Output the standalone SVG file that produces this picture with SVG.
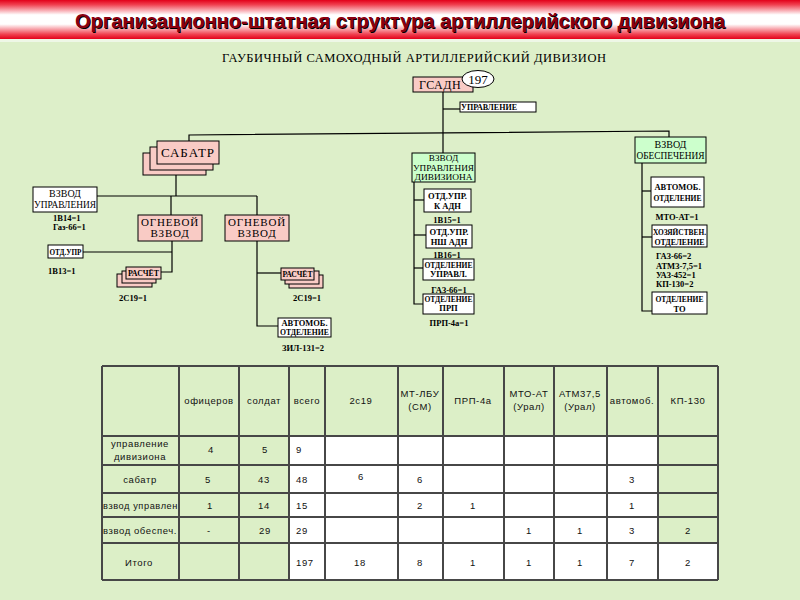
<svg xmlns="http://www.w3.org/2000/svg" width="800" height="600" viewBox="0 0 800 600">
<defs>
<linearGradient id="bar" x1="0" y1="0" x2="0" y2="1">
<stop offset="0" stop-color="#e3001a"/>
<stop offset="0.12" stop-color="#f04050"/>
<stop offset="0.38" stop-color="#ffffff"/>
<stop offset="0.62" stop-color="#ffffff"/>
<stop offset="0.88" stop-color="#f04050"/>
<stop offset="1" stop-color="#e3001a"/>
</linearGradient>
<style>
.pink{fill:#F9CBC5;stroke:#000;stroke-width:1}
.grn{fill:#CCFFCC;stroke:#000;stroke-width:1}
.wht{fill:#fff;stroke:#000;stroke-width:1}
.ln{stroke:#000;stroke-width:1.2;fill:none}
.sr{font-family:"Liberation Serif","DejaVu Serif",serif;fill:#000;text-anchor:middle}
.st{text-anchor:start}
.b10{font-size:10px}
.b9{font-size:9.2px}
.b11{font-size:11px;letter-spacing:0.8px}
.s9{font-size:8.5px;font-weight:bold}
.tb{font-family:"Liberation Sans",Arial,sans-serif;font-size:9.5px;fill:#111;letter-spacing:0.6px;text-anchor:middle}
.grid{stroke:#474747;stroke-width:2;fill:none}
.cg{fill:#DCEFC7}
.cw{fill:#fff}
</style>
</defs>
<rect x="0" y="0" width="800" height="600" fill="#DDEFC9"/>
<rect x="0" y="0" width="800" height="39" fill="url(#bar)"/>
<rect x="0" y="39" width="800" height="3" fill="#eef7e6"/>
<text x="401" y="29" font-family="Liberation Sans,Arial,sans-serif" font-size="20" font-weight="bold" fill="#000" text-anchor="middle" textLength="650" lengthAdjust="spacingAndGlyphs">Организационно-штатная структура артиллерийского дивизиона</text>
<text x="400" y="28" font-family="Liberation Sans,Arial,sans-serif" font-size="20" font-weight="bold" fill="#8B0010" text-anchor="middle" textLength="650" lengthAdjust="spacingAndGlyphs">Организационно-штатная структура артиллерийского дивизиона</text>

<text class="sr" x="414" y="62" font-size="12.5" textLength="384" lengthAdjust="spacing">ГАУБИЧНЫЙ САМОХОДНЫЙ  АРТИЛЛЕРИЙСКИЙ  ДИВИЗИОН</text>

<g id="connectors">
<polyline class="ln" points="443,92 443,153"/>
<polyline class="ln" points="443,109 460,109"/>
<polyline class="ln" points="189,141 189,135 669,131 669,137"/>
<polyline class="ln" points="176,175 176,196"/>
<polyline class="ln" points="97,196 257,196"/>
<polyline class="ln" points="171,196 171,215"/>
<polyline class="ln" points="257,196 257,215"/>
<polyline class="ln" points="172,241 172,272 161,272"/>
<polyline class="ln" points="83,252 172,252"/>
<polyline class="ln" points="257,241 257,326 278,326"/>
<polyline class="ln" points="257,273 281,273"/>
<polyline class="ln" points="414,182 414,304 423,304"/>
<polyline class="ln" points="414,200 424,200"/>
<polyline class="ln" points="414,235 426,235"/>
<polyline class="ln" points="414,268 423,268"/>
<polyline class="ln" points="642,163 642,311 652,311"/>
<polyline class="ln" points="642,191 651,191"/>
<polyline class="ln" points="642,237 652,237"/>
</g>

<g id="gsadn">
<rect class="pink" x="413" y="77" width="60" height="15"/>
<text class="sr" x="440" y="89" font-size="12" letter-spacing="0.5">ГСАДН</text>
<ellipse cx="478" cy="79" rx="16" ry="8.5" fill="#fff" stroke="#000" stroke-width="1"/>
<text class="sr" x="478" y="84" font-size="13">197</text>
</g>

<g id="upravlenie">
<rect class="wht" x="460" y="102" width="76" height="10"/>
<text class="sr s9" x="489" y="110" font-size="7.5" textLength="56" lengthAdjust="spacingAndGlyphs">УПРАВЛЕНИЕ</text>
</g>

<g id="sabatr">
<rect class="pink" x="143" y="153" width="63" height="22"/>
<rect class="pink" x="150" y="147" width="63" height="23"/>
<rect class="pink" x="157" y="141" width="62" height="23"/>
<text class="sr" x="188" y="157" font-size="13" letter-spacing="1">САБАТР</text>
</g>

<g id="vzvod-upr">
<rect class="wht" x="33" y="187" width="64" height="25"/>
<text class="sr b10" x="65" y="197">ВЗВОД</text>
<text class="sr b10" x="65" y="208" textLength="62" lengthAdjust="spacingAndGlyphs">УПРАВЛЕНИЯ</text>
<text class="sr s9 st" x="53" y="221">1В14=1</text>
<text class="sr s9 st" x="53" y="230">Газ-66=1</text>
</g>

<g id="ogn1">
<rect class="pink" x="138" y="215" width="64" height="26"/>
<text class="sr b11" x="170" y="226">ОГНЕВОЙ</text>
<text class="sr b11" x="170" y="237">ВЗВОД</text>
</g>

<g id="ogn2">
<rect class="pink" x="225" y="215" width="64" height="26"/>
<text class="sr b11" x="257" y="226">ОГНЕВОЙ</text>
<text class="sr b11" x="257" y="237">ВЗВОД</text>
</g>

<g id="otd-upr">
<rect class="wht" x="48" y="245" width="35" height="13"/>
<text class="sr s9" x="65.5" y="255" textLength="32" lengthAdjust="spacingAndGlyphs">ОТД.УПР</text>
<text class="sr s9 st" x="48" y="274">1В13=1</text>
</g>

<g id="raschet1">
<rect class="pink" x="117" y="274" width="35" height="13"/>
<rect class="pink" x="122" y="271" width="34" height="12"/>
<rect class="pink" x="126" y="267" width="35" height="12"/>
<text class="sr s9" x="143.5" y="276" textLength="31" lengthAdjust="spacingAndGlyphs">РАСЧЁТ</text>
<text class="sr s9" x="133" y="301">2С19=1</text>
</g>

<g id="raschet2">
<rect class="pink" x="289" y="275" width="34" height="13"/>
<rect class="pink" x="285" y="271" width="34" height="13"/>
<rect class="pink" x="281" y="268" width="33" height="12"/>
<text class="sr s9" x="297.5" y="277" textLength="30" lengthAdjust="spacingAndGlyphs">РАСЧЁТ</text>
<text class="sr s9" x="307" y="301">2С19=1</text>
</g>

<g id="avto1">
<rect class="wht" x="278" y="318" width="53" height="19"/>
<text class="sr s9" x="304.5" y="326" textLength="46" lengthAdjust="spacingAndGlyphs">АВТОМОБ.</text>
<text class="sr s9" x="304.5" y="335" textLength="49" lengthAdjust="spacingAndGlyphs">ОТДЕЛЕНИЕ</text>
<text class="sr s9" x="303" y="351">ЗИЛ-131=2</text>
</g>

<g id="vzvod-upr-div">
<rect class="grn" x="412" y="153" width="63" height="29"/>
<text class="sr b9" x="443.5" y="161">ВЗВОД</text>
<text class="sr b9" x="443.5" y="170.5" textLength="61" lengthAdjust="spacingAndGlyphs">УПРАВЛЕНИЯ</text>
<text class="sr b9" x="443.5" y="180" textLength="58" lengthAdjust="spacingAndGlyphs">ДИВИЗИОНА</text>
</g>

<g id="otd-k">
<rect class="wht" x="424" y="189" width="47" height="23"/>
<text class="sr s9" x="447.5" y="199">ОТД.УПР.</text>
<text class="sr s9" x="447.5" y="209">К АДН</text>
<text class="sr s9" x="447" y="223">1В15=1</text>
</g>

<g id="otd-nsh">
<rect class="wht" x="426" y="225" width="46" height="23"/>
<text class="sr s9" x="449" y="235">ОТД.УПР.</text>
<text class="sr s9" x="449" y="245">НШ АДН</text>
<text class="sr s9" x="447" y="258">1В16=1</text>
</g>

<g id="otd-upravl">
<rect class="wht" x="423" y="259" width="51" height="21"/>
<text class="sr s9" x="448.5" y="268" textLength="48" lengthAdjust="spacingAndGlyphs">ОТДЕЛЕНИЕ</text>
<text class="sr s9" x="448.5" y="277">УПРАВЛ.</text>
<text class="sr s9" x="449" y="293">ГАЗ-66=1</text>
</g>

<g id="otd-prp">
<rect class="wht" x="423" y="294" width="51" height="20"/>
<text class="sr s9" x="448.5" y="302" textLength="48" lengthAdjust="spacingAndGlyphs">ОТДЕЛЕНИЕ</text>
<text class="sr s9" x="448.5" y="311">ПРП</text>
<text class="sr s9" x="449" y="326">ПРП-4а=1</text>
</g>

<g id="vzvod-obesp">
<rect class="grn" x="635" y="137" width="71" height="26"/>
<text class="sr b10" x="670.5" y="148">ВЗВОД</text>
<text class="sr b10" x="670.5" y="159" textLength="68" lengthAdjust="spacingAndGlyphs">ОБЕСПЕЧЕНИЯ</text>
</g>

<g id="avto2">
<rect class="wht" x="651" y="177" width="53" height="30"/>
<text class="sr s9" x="677.5" y="190" textLength="46" lengthAdjust="spacingAndGlyphs">АВТОМОБ.</text>
<text class="sr s9" x="677.5" y="201" textLength="48" lengthAdjust="spacingAndGlyphs">ОТДЕЛЕНИЕ</text>
<text class="sr s9" x="677" y="220">МТО-АТ=1</text>
</g>

<g id="hoz">
<rect class="wht" x="652" y="225" width="55" height="22"/>
<text class="sr s9" x="679.5" y="235" textLength="53" lengthAdjust="spacingAndGlyphs">ХОЗЯЙСТВЕН.</text>
<text class="sr s9" x="679.5" y="245" textLength="50" lengthAdjust="spacingAndGlyphs">ОТДЕЛЕНИЕ</text>
<text class="sr s9 st" x="656" y="259">ГАЗ-66=2</text>
<text class="sr s9 st" x="656" y="269">АТМЗ-7,5=1</text>
<text class="sr s9 st" x="656" y="278">УАЗ-452=1</text>
<text class="sr s9 st" x="656" y="287">КП-130=2</text>
</g>

<g id="otd-to">
<rect class="wht" x="652" y="292" width="55" height="22"/>
<text class="sr s9" x="679.5" y="302" textLength="48" lengthAdjust="spacingAndGlyphs">ОТДЕЛЕНИЕ</text>
<text class="sr s9" x="679.5" y="312">ТО</text>
</g>

<g id="table">
<rect class="cg" x="102" y="366" width="616" height="214"/>
<rect class="cw" x="289" y="436" width="369" height="144"/>
<rect class="cw" x="658" y="543" width="60" height="37"/>
<path class="grid" d="M102,366H718M102,436H718M102,465H718M102,493H718M102,517H718M102,543H718M102,580H718M102,366V580M179,366V580M239,366V580M289,366V580M325,366V580M398,366V580M443,366V580M504,366V580M554,366V580M607,366V580M658,366V580M718,366V580"/>
<g class="tb">
<text x="209" y="404">офицеров</text>
<text x="264" y="404">солдат</text>
<text x="307" y="404">всего</text>
<text x="361" y="404">2с19</text>
<text x="420" y="397">МТ-ЛБУ</text>
<text x="420" y="410">(СМ)</text>
<text x="473" y="404">ПРП-4а</text>
<text x="529" y="397">МТО-АТ</text>
<text x="529" y="410">(Урал)</text>
<text x="580" y="397">АТМ37,5</text>
<text x="580" y="410">(Урал)</text>
<text x="632" y="404">автомоб.</text>
<text x="688" y="404">КП-130</text>

<text x="140" y="447">управление</text>
<text x="140" y="460">дивизиона</text>
<text x="211" y="453">4</text>
<text x="265" y="453">5</text>
<text x="296" y="453" text-anchor="start">9</text>

<text x="140" y="483">сабатр</text>
<text x="208" y="483">5</text>
<text x="264" y="483">43</text>
<text x="296" y="483" text-anchor="start">48</text>
<text x="361" y="480">6</text>
<text x="420" y="483">6</text>
<text x="632" y="483">3</text>

<text x="103" y="509" text-anchor="start" textLength="75" lengthAdjust="spacingAndGlyphs">взвод управлен</text>
<text x="210" y="509">1</text>
<text x="264" y="509">14</text>
<text x="296" y="509" text-anchor="start">15</text>
<text x="420" y="509">2</text>
<text x="473" y="509">1</text>
<text x="632" y="509">1</text>

<text x="103" y="534" text-anchor="start" textLength="74" lengthAdjust="spacingAndGlyphs">взвод обеспеч.</text>
<text x="209" y="534">-</text>
<text x="265" y="534">29</text>
<text x="296" y="534" text-anchor="start">29</text>
<text x="529" y="534">1</text>
<text x="580" y="534">1</text>
<text x="632" y="534">3</text>
<text x="688" y="534">2</text>

<text x="139" y="566">Итого</text>
<text x="296" y="566" text-anchor="start">197</text>
<text x="360" y="566">18</text>
<text x="420" y="566">8</text>
<text x="473" y="566">1</text>
<text x="529" y="566">1</text>
<text x="580" y="566">1</text>
<text x="632" y="566">7</text>
<text x="688" y="566">2</text>
</g>
</g>
</svg>
